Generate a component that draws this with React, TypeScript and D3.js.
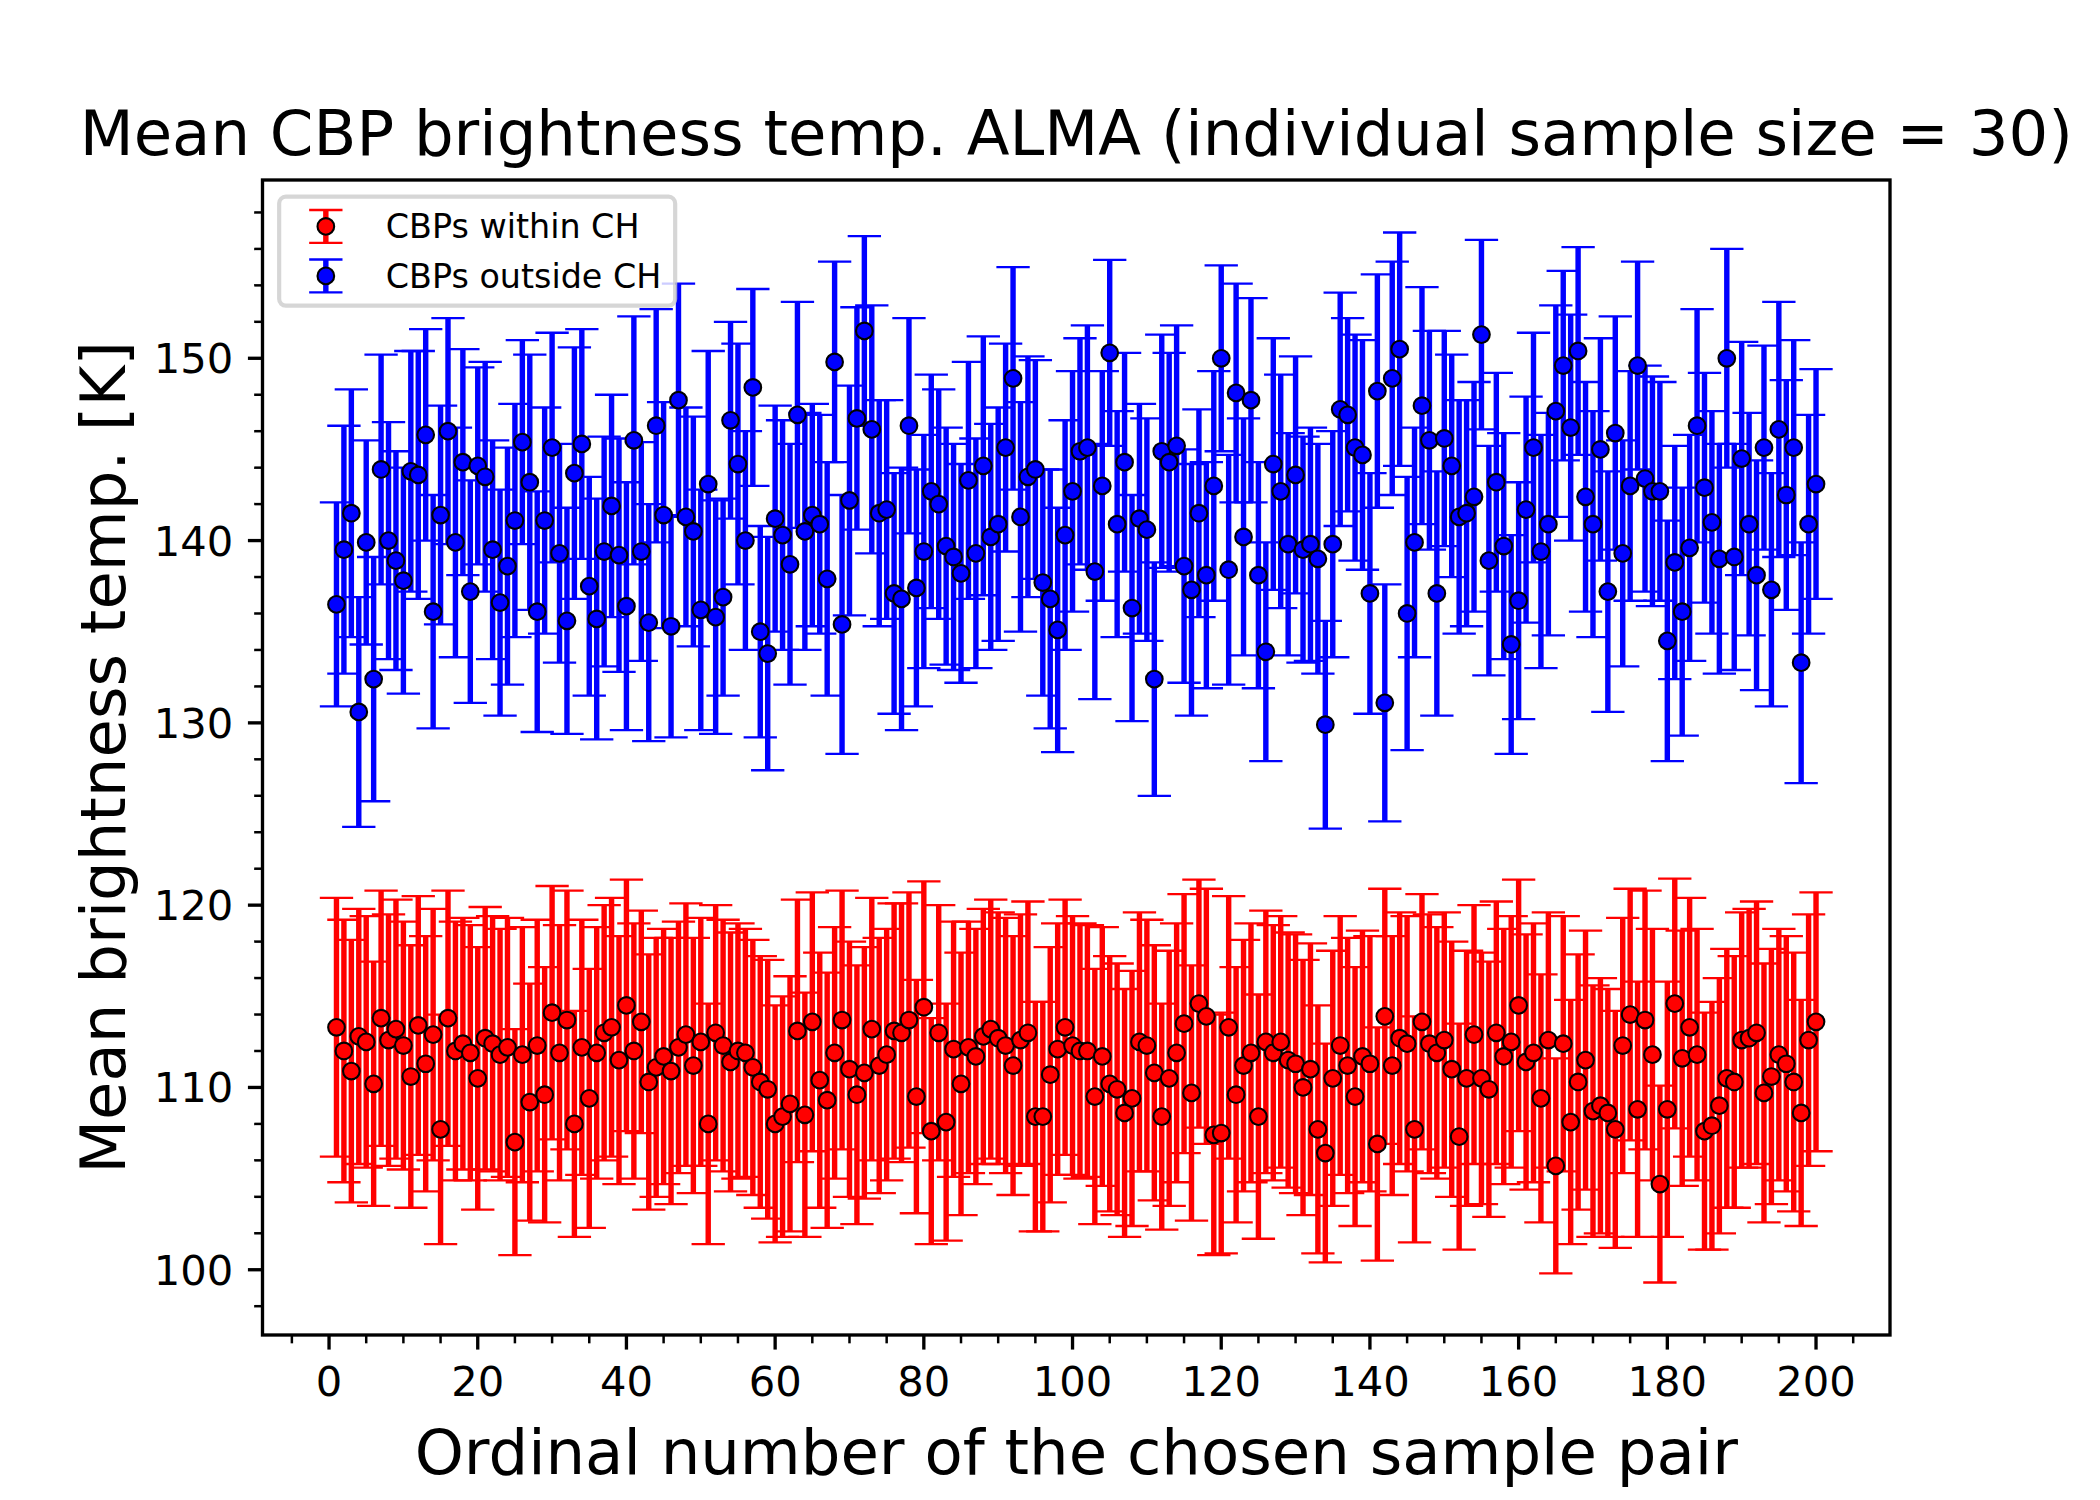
import * as d3 from "d3";
import { useEffect, useRef } from "react";

// mean brightness temperature of CBPs inside coronal holes, pairs 1..200
const redMean = [
  113.3, 112.0, 110.9, 112.8, 112.5, 110.2, 113.8, 112.6, 113.2, 112.3,
  110.6, 113.4, 111.3, 112.9, 107.7, 113.8, 112.0, 112.4, 111.9, 110.5,
  112.7, 112.4, 111.8, 112.2, 107.0, 111.8, 109.2, 112.3, 109.6, 114.1,
  111.9, 113.7, 108.0, 112.2, 109.4, 111.9, 113.0, 113.3, 111.5, 114.5,
  112.0, 113.6, 110.3, 111.1, 111.7, 110.9, 112.2, 112.9, 111.2, 112.5,
  108.0, 113.0, 112.3, 111.4, 112.0, 111.9, 111.1, 110.3, 109.9, 108.0,
  108.4, 109.1, 113.1, 108.5, 113.6, 110.4, 109.3, 111.9, 113.7, 111.0,
  109.6, 110.8, 113.2, 111.2, 111.8, 113.1, 113.0, 113.7, 109.5, 114.4,
  107.6, 113.0, 108.1, 112.1, 110.2, 112.2, 111.7, 112.8, 113.2, 112.7,
  112.3, 111.2, 112.6, 113.0, 108.4, 108.4, 110.7, 112.1, 113.3, 112.3,
  112.0, 112.0, 109.5, 111.7, 110.2, 109.9, 108.6, 109.4, 112.5, 112.3,
  110.8, 108.4, 110.5, 111.9, 113.5, 109.7, 114.6, 113.9, 107.4, 107.5,
  113.3, 109.6, 111.2, 111.9, 108.4, 112.5, 111.9, 112.5, 111.5, 111.3,
  110.0, 111.0, 107.7, 106.4, 110.5, 112.3, 111.2, 109.5, 111.7, 111.3,
  106.9, 113.9, 111.2, 112.7, 112.4, 107.7, 113.6, 112.4, 111.9, 112.6,
  111.0, 107.3, 110.5, 112.9, 110.5, 109.9, 113.0, 111.7, 112.5, 114.5,
  111.4, 111.9, 109.4, 112.6, 105.7, 112.4, 108.1, 110.3, 111.5, 108.7,
  109.0, 108.6, 107.7, 112.3, 114.0, 108.8, 113.7, 111.8, 104.7, 108.8,
  114.6, 111.6, 113.3, 111.8, 107.6, 107.9, 109.0, 110.5, 110.3, 112.6,
  112.7, 113.0, 109.7, 110.6, 111.8, 111.3, 110.3, 108.6, 112.6, 113.6,
];

const redErr = [
  7.1, 7.2, 7.2, 7.0, 6.9, 6.7, 7.0, 6.9, 7.1, 6.8,
  7.2, 7.1, 7.0, 6.9, 6.3, 7.0, 7.1, 6.9, 7.0, 7.2,
  7.2, 7.0, 6.9, 7.1, 6.2, 7.0, 6.5, 6.9, 7.0, 6.95,
  7.0, 7.1, 6.2, 7.0, 7.1, 6.9, 7.0, 7.1, 6.8, 6.9,
  7.0, 6.1, 7.0, 7.1, 7.0, 7.3, 6.9, 7.2, 7.0, 6.8,
  6.6, 7.0, 6.9, 7.1, 7.0, 6.8, 7.0, 6.9, 7.1, 6.5,
  6.6, 7.0, 7.2, 6.7, 7.1, 7.0, 7.0, 6.9, 7.1, 7.0,
  7.1, 6.9, 7.2, 7.0, 6.9, 7.0, 7.1, 7.0, 6.4, 6.9,
  6.2, 7.0, 6.5, 7.0, 7.2, 6.9, 7.0, 7.0, 7.1, 6.9,
  7.0, 7.1, 6.9, 7.2, 6.3, 6.3, 7.0, 6.9, 7.0, 7.1,
  7.0, 6.9, 7.0, 7.1, 7.0, 6.9, 6.8, 7.0, 7.1, 6.9,
  7.0, 6.2, 7.0, 7.1, 7.1, 7.0, 6.8, 7.0, 6.6, 6.6,
  7.2, 7.0, 6.9, 7.1, 6.7, 7.2, 7.0, 6.9, 7.0, 7.1,
  7.0, 6.9, 6.8, 6.0, 7.0, 7.1, 7.0, 7.1, 6.9, 7.0,
  6.4, 7.0, 7.1, 6.9, 7.0, 6.2, 7.0, 7.1, 6.9, 7.0,
  7.0, 6.2, 7.0, 7.1, 6.9, 7.0, 7.2, 7.0, 6.9, 6.9,
  7.0, 7.1, 6.8, 7.0, 5.9, 7.0, 6.7, 7.0, 7.1, 6.9,
  7.0, 6.8, 6.5, 7.0, 6.9, 7.0, 7.1, 6.9, 5.4, 7.0,
  6.85, 7.0, 7.1, 6.9, 6.5, 6.8, 7.0, 7.1, 6.9, 7.0,
  7.1, 7.2, 7.1, 7.0, 6.9, 7.0, 7.1, 6.2, 6.9, 7.1,
];

// mean brightness temperature of CBPs outside coronal holes
const blueMean = [
  136.5, 139.5, 141.5, 130.6, 139.9, 132.4, 143.9, 140.0, 138.9, 137.8,
  143.8, 143.6, 145.8, 136.1, 141.4, 146.0, 139.9, 144.3, 137.2, 144.1,
  143.5, 139.5, 136.6, 138.6, 141.1, 145.4, 143.2, 136.1, 141.1, 145.1,
  139.3, 135.6, 143.7, 145.3, 137.5, 135.7, 139.4, 141.9, 139.2, 136.4,
  145.5, 139.4, 135.5, 146.3, 141.4, 135.3, 147.7, 141.3, 140.5, 136.2,
  143.1, 135.8, 136.9, 146.6, 144.2, 140.0, 148.4, 135.0, 133.8, 141.2,
  140.3, 138.7, 146.9, 140.5, 141.4, 140.9, 137.9, 149.8, 135.4, 142.2,
  146.7, 151.5, 146.1, 141.5, 141.7, 137.1, 136.8, 146.3, 137.4, 139.4,
  142.7, 142.0, 139.7, 139.1, 138.2, 143.3, 139.3, 144.1, 140.2, 140.9,
  145.1, 148.9, 141.3, 143.5, 143.9, 137.7, 136.8, 135.1, 140.3, 142.7,
  144.9, 145.1, 138.3, 143.0, 150.3, 140.9, 144.3, 136.3, 141.2, 140.6,
  132.4, 144.9, 144.3, 145.2, 138.6, 137.3, 141.5, 138.1, 143.0, 150.0,
  138.4, 148.1, 140.2, 147.7, 138.1, 133.9, 144.2, 142.7, 139.8, 143.6,
  139.5, 139.8, 139.0, 129.9, 139.8, 147.2, 146.9, 145.1, 144.7, 137.1,
  148.2, 131.1, 148.9, 150.5, 136.0, 139.9, 147.4, 145.5, 137.1, 145.6,
  144.1, 141.3, 141.5, 142.4, 151.3, 138.9, 143.2, 139.7, 134.3, 136.7,
  141.7, 145.1, 139.4, 140.9, 147.1, 149.6, 146.2, 150.4, 142.4, 140.9,
  145.0, 137.2, 145.9, 139.3, 143.0, 149.6, 143.4, 142.7, 142.7, 134.5,
  138.8, 136.1, 139.6, 146.3, 142.9, 141.0, 139.0, 150.0, 139.1, 144.5,
  140.9, 138.1, 145.1, 137.3, 146.1, 142.5, 145.1, 133.3, 140.9, 143.1,
];

const blueErr = [
  5.6, 6.8, 6.8, 6.3, 5.6, 6.7, 6.3, 6.5, 6.0, 6.2,
  6.6, 6.8, 5.8, 6.4, 6.0, 6.2, 6.3, 6.2, 6.1, 5.4,
  6.3, 6.0, 6.2, 6.5, 6.4, 5.6, 7.0, 6.6, 6.2, 6.3,
  6.0, 6.2, 6.9, 6.3, 6.0, 6.6, 6.3, 6.1, 6.4, 6.8,
  6.8, 6.0, 6.5, 6.4, 6.2, 6.1, 6.4, 6.0, 6.3, 6.6,
  7.3, 6.4, 5.4, 5.4, 6.6, 6.0, 5.4, 5.8, 6.4, 6.2,
  6.3, 6.6, 6.2, 6.5, 6.1, 6.0, 6.4, 5.5, 7.1, 6.3,
  6.1, 5.2, 6.8, 6.2, 6.0, 6.6, 7.2, 5.9, 6.5, 6.4,
  6.4, 6.3, 6.5, 6.2, 6.0, 6.5, 6.3, 7.1, 6.2, 6.4,
  5.7, 6.1, 6.3, 6.6, 6.0, 6.2, 7.1, 6.7, 6.3, 6.6,
  6.2, 6.7, 7.0, 6.3, 5.1, 6.2, 6.0, 6.2, 6.3, 6.1,
  6.4, 6.4, 6.0, 6.6, 6.4, 6.9, 5.7, 6.2, 6.3, 5.1,
  6.3, 6.0, 6.5, 5.6, 6.2, 6.0, 6.9, 6.4, 6.1, 6.5,
  6.2, 6.4, 6.3, 5.7, 6.2, 6.4, 5.3, 6.2, 6.3, 6.6,
  6.4, 6.5, 6.4, 6.4, 7.5, 6.3, 6.5, 6.0, 6.7, 5.9,
  6.1, 6.4, 6.2, 6.3, 5.2, 6.3, 6.0, 6.2, 6.0, 6.5,
  6.2, 6.3, 6.4, 6.1, 5.8, 5.2, 6.2, 5.7, 6.3, 6.2,
  6.1, 6.6, 6.4, 6.2, 6.3, 5.7, 6.2, 6.3, 6.0, 6.6,
  6.4, 6.8, 6.2, 6.4, 6.3, 6.1, 6.3, 6.0, 6.2, 6.4,
  6.1, 6.3, 5.6, 6.4, 7.0, 6.3, 5.9, 6.6, 6.0, 6.3,
];

const seriesNames = ["CBPs within CH", "CBPs outside CH"];
const xTicks = [0, 20, 40, 60, 80, 100, 120, 140, 160, 180, 200];
const yTicks = [100, 110, 120, 130, 140, 150];

const titleText = "Mean CBP brightness temp. ALMA (individual sample size = 30)";
const xLabelText = "Ordinal number of the chosen sample pair";
const yLabelText = "Mean brightness temp. [K]";

// figure is 7x5 in at 300 dpi, so 1pt = 300/72 px
const PT = 300 / 72;
const W = 2100;
const H = 1500;
const FONT = "DejaVu Sans, sans-serif";

const drawChart = (target: any) => {
  const ax = { left: 0.125 * W, right: 0.9 * W, top: 0.12 * H, bottom: 0.89 * H };
  const svg = d3.select(target);
  svg.selectAll("*").remove();

  const ids = blueMean.map((_, i) => i + 1);
  const xPad = (d3.max(ids)! - d3.min(ids)!) * 0.05;
  const xScale = d3
    .scaleLinear()
    .domain([d3.min(ids)! - xPad, d3.max(ids)! + xPad])
    .range([ax.left, ax.right]);

  const series = [
    { name: seriesNames[0], color: "#ff0000", mean: redMean, err: redErr },
    { name: seriesNames[1], color: "#0000ff", mean: blueMean, err: blueErr },
  ];
  const lows = series.flatMap((s) => s.mean.map((m, i) => m - s.err[i]));
  const highs = series.flatMap((s) => s.mean.map((m, i) => m + s.err[i]));
  const yLo = d3.min(lows)!;
  const yHi = d3.max(highs)!;
  const yPad = (yHi - yLo) * 0.05;
  const yScale = d3
    .scaleLinear()
    .domain([yLo - yPad, yHi + yPad])
    .range([ax.bottom, ax.top]);

  svg.append("rect").attr("width", W).attr("height", H).attr("fill", "white");

  const cap = 4 * PT;
  const barW = 1.3 * PT;
  const capW = 0.55 * PT;
  const markerR = 2 * PT;

  // error bars first, markers above them
  series.forEach((s) => {
    const g = svg.append("g").attr("stroke", s.color);
    s.mean.forEach((m, i) => {
      const cx = xScale(ids[i]);
      const y0 = yScale(m - s.err[i]);
      const y1 = yScale(m + s.err[i]);
      g.append("line")
        .attr("x1", cx)
        .attr("x2", cx)
        .attr("y1", y0)
        .attr("y2", y1)
        .attr("stroke-width", barW);
      [y0, y1].forEach((yy) => {
        g.append("line")
          .attr("x1", cx - cap)
          .attr("x2", cx + cap)
          .attr("y1", yy)
          .attr("y2", yy)
          .attr("stroke-width", capW);
      });
    });
  });
  series.forEach((s) => {
    svg
      .append("g")
      .selectAll("circle")
      .data(s.mean)
      .join("circle")
      .attr("cx", (_, i) => xScale(ids[i]))
      .attr("cy", (d) => yScale(d))
      .attr("r", markerR)
      .attr("fill", s.color)
      .attr("stroke", "black")
      .attr("stroke-width", 0.5 * PT);
  });

  // ticks
  const tickFont = 10 * PT;
  const majLen = 3.5 * PT;
  const minLen = 2 * PT;
  const [xd0, xd1] = xScale.domain();
  const [yd0, yd1] = yScale.domain();
  const xMinor = d3.range(Math.ceil(xd0 / 5) * 5, xd1, 5).filter((v) => v % 20 !== 0);
  const yMinor = d3.range(Math.ceil(yd0 / 2) * 2, yd1, 2).filter((v) => v % 10 !== 0);

  const tg = svg.append("g").attr("stroke", "black");
  xTicks.forEach((v) => {
    tg.append("line")
      .attr("x1", xScale(v)).attr("x2", xScale(v))
      .attr("y1", ax.bottom).attr("y2", ax.bottom + majLen)
      .attr("stroke-width", 0.8 * PT);
  });
  xMinor.forEach((v) => {
    tg.append("line")
      .attr("x1", xScale(v)).attr("x2", xScale(v))
      .attr("y1", ax.bottom).attr("y2", ax.bottom + minLen)
      .attr("stroke-width", 0.6 * PT);
  });
  yTicks.forEach((v) => {
    tg.append("line")
      .attr("x1", ax.left - majLen).attr("x2", ax.left)
      .attr("y1", yScale(v)).attr("y2", yScale(v))
      .attr("stroke-width", 0.8 * PT);
  });
  yMinor.forEach((v) => {
    tg.append("line")
      .attr("x1", ax.left - minLen).attr("x2", ax.left)
      .attr("y1", yScale(v)).attr("y2", yScale(v))
      .attr("stroke-width", 0.6 * PT);
  });

  const lg = svg.append("g").attr("font-family", FONT).attr("font-size", tickFont).attr("fill", "black");
  xTicks.forEach((v) => {
    lg.append("text")
      .attr("x", xScale(v))
      .attr("y", ax.bottom + majLen + 3.5 * PT + 0.76 * tickFont)
      .attr("text-anchor", "middle")
      .text(v);
  });
  yTicks.forEach((v) => {
    lg.append("text")
      .attr("x", ax.left - majLen - 3.5 * PT)
      .attr("y", yScale(v))
      .attr("dy", "0.36em")
      .attr("text-anchor", "end")
      .text(v);
  });

  // frame
  svg
    .append("rect")
    .attr("x", ax.left)
    .attr("y", ax.top)
    .attr("width", ax.right - ax.left)
    .attr("height", ax.bottom - ax.top)
    .attr("fill", "none")
    .attr("stroke", "black")
    .attr("stroke-width", 0.8 * PT);

  // title and axis labels
  const bigFont = 15 * PT;
  svg
    .append("text")
    .attr("x", (ax.left + ax.right) / 2)
    .attr("y", ax.top - 6 * PT)
    .attr("text-anchor", "middle")
    .attr("font-family", FONT)
    .attr("font-size", bigFont)
    .text(titleText);
  svg
    .append("text")
    .attr("x", (ax.left + ax.right) / 2)
    .attr("y", 1474)
    .attr("text-anchor", "middle")
    .attr("font-family", FONT)
    .attr("font-size", bigFont)
    .text(xLabelText);
  svg
    .append("text")
    .attr("transform", `translate(125,${(ax.top + ax.bottom) / 2}) rotate(-90)`)
    .attr("text-anchor", "middle")
    .attr("font-family", FONT)
    .attr("font-size", bigFont)
    .text(yLabelText);

  // legend, upper left
  const fs = 8 * PT;
  const lx = ax.left + 0.5 * fs;
  const ly = ax.top + 0.5 * fs;
  const rowH = 0.985 * fs;
  const legW = 0.4 * fs + 2 * fs + 0.8 * fs + 8.28 * fs + 0.4 * fs;
  const legH = 0.4 * fs * 2 + rowH * 2 + 0.5 * fs;
  const leg = svg.append("g");
  leg
    .append("rect")
    .attr("x", lx)
    .attr("y", ly)
    .attr("width", legW)
    .attr("height", legH)
    .attr("rx", 0.2 * fs)
    .attr("fill", "white")
    .attr("fill-opacity", 0.8)
    .attr("stroke", "#cccccc")
    .attr("stroke-opacity", 0.8)
    .attr("stroke-width", 1 * PT);
  series.forEach((s, k) => {
    const cy = ly + 0.4 * fs + rowH / 2 + k * (rowH + 0.5 * fs);
    const hx = lx + 0.4 * fs + fs;
    const row = leg.append("g");
    row
      .append("line")
      .attr("x1", hx).attr("x2", hx)
      .attr("y1", cy - rowH / 2).attr("y2", cy + rowH / 2)
      .attr("stroke", s.color)
      .attr("stroke-width", barW);
    [cy - rowH / 2, cy + rowH / 2].forEach((yy) => {
      row
        .append("line")
        .attr("x1", hx - cap).attr("x2", hx + cap)
        .attr("y1", yy).attr("y2", yy)
        .attr("stroke", s.color)
        .attr("stroke-width", capW);
    });
    row
      .append("circle")
      .attr("cx", hx)
      .attr("cy", cy)
      .attr("r", markerR)
      .attr("fill", s.color)
      .attr("stroke", "black")
      .attr("stroke-width", 0.5 * PT);
    row
      .append("text")
      .attr("x", lx + 0.4 * fs + 2 * fs + 0.8 * fs)
      .attr("y", cy)
      .attr("dy", "0.36em")
      .attr("font-family", FONT)
      .attr("font-size", fs)
      .text(s.name);
  });
};

const App = () => {
  const ref = useRef<SVGSVGElement>(null);
  useEffect(() => {
    if (ref.current) drawChart(ref.current);
  }, []);
  return (
    <svg
      ref={ref}
      width={W}
      height={H}
      style={{ position: "absolute", left: 0, top: 0 }}
    />
  );
};

export default App;
